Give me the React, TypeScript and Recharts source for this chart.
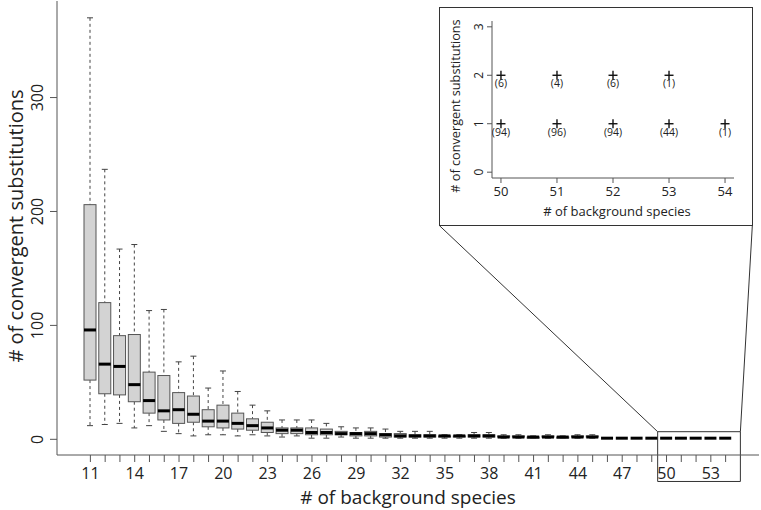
import React from "react";
import {
  ComposedChart, Bar, Scatter, XAxis, YAxis, ReferenceArea, ReferenceLine,
} from "recharts";

// number of background species (one box per value)
const categories = [
  11, 12, 13, 14, 15, 16, 17, 18, 19, 20, 21, 22, 23, 24, 25, 26, 27, 28, 29, 30, 31, 32,
  33, 34, 35, 36, 37, 38, 39, 40, 41, 42, 43, 44, 45, 46, 47, 48, 49, 50, 51, 52, 53, 54,
];
// box statistics
const whiskerLow = [
  12, 13, 14, 10, 12, 7, 5, 3, 4, 4, 3, 4, 3, 2, 3, 1, 1, 2, 1, 1, 1, 1,
  1, 1, 1, 1, 1, 1, 1, 1, 1, 1, 1, 1, 1, 1, 1, 1, 1, 1, 1, 1, 1, 1,
];
const lowerQuartile = [
  52, 40, 39, 33, 23, 17, 14, 15, 11, 10, 9, 8, 6, 5, 5, 4, 4, 4, 3, 3, 2, 2,
  2, 2, 2, 2, 2, 2, 2, 2, 1, 2, 1, 2, 2, 1, 1, 1, 1, 1, 1, 1, 1, 1,
];
const medians = [
  96, 66, 64, 48, 34, 25, 26, 22, 16, 16, 14, 12, 10, 8, 8, 6, 6, 5, 5, 5, 4, 3,
  3, 3, 3, 3, 3, 3, 2, 2, 2, 2, 2, 2, 2, 1, 1, 1, 1, 1, 1, 1, 1, 1,
];
const upperQuartile = [
  206, 120, 91, 92, 59, 56, 41, 38, 26, 30, 23, 18, 15, 10, 10, 10, 9, 7, 6, 7, 5, 5,
  4, 4, 3, 3, 4, 4, 3, 3, 2, 3, 2, 3, 3, 1, 1, 1, 1, 1, 1, 1, 1, 1,
];
const whiskerHigh = [
  370, 237, 167, 171, 113, 114, 68, 73, 45, 60, 42, 30, 25, 17, 17, 17, 14, 11, 10, 10, 9, 7,
  7, 7, 4, 4, 6, 6, 4, 4, 3, 4, 3, 4, 4, 1, 1, 1, 1, 1, 1, 1, 1, 1,
];
const yTicks = [0, 100, 200, 300];

// inset: counts of replicates at 1 and 2 convergent substitutions
const insetSpecies = [50, 51, 52, 53, 54];
const countsAtOne = [94, 96, 94, 44, 1];
const countsAtTwo = [6, 4, 6, 1, 0];
const insetYTicks = [0, 1, 2, 3];

const FONT = '"Open Sans", sans-serif';
const INK = "#222";
const FRAME = "#555";

const boxData = categories.map((c, i) => ({
  species: c,
  lo: whiskerLow[i],
  q1: lowerQuartile[i],
  med: medians[i],
  q3: upperQuartile[i],
  hi: whiskerHigh[i],
}));

const insetPoints = insetSpecies.flatMap((s, i) => [
  { species: s, subs: 1, n: countsAtOne[i] },
  { species: s, subs: 2, n: countsAtTwo[i] },
]).filter((p) => p.n > 0);

function BoxShape(props: any) {
  const { x, y, width, height, payload } = props;
  if (!payload) return null;
  const { lo, q1, med, q3, hi } = payload;
  const top = y;
  const bottom = y + height;
  const span = hi - lo;
  const py = (v: number) => (span === 0 ? top : top + ((hi - v) / span) * (bottom - top));
  const cx = x + width / 2;
  const cap = width / 4;
  return (
    <g>
      <line x1={cx} x2={cx} y1={py(hi)} y2={py(q3)} stroke="#444" strokeDasharray="3 3" />
      <line x1={cx} x2={cx} y1={py(q1)} y2={py(lo)} stroke="#444" strokeDasharray="3 3" />
      <line x1={cx - cap} x2={cx + cap} y1={py(hi)} y2={py(hi)} stroke="#444" />
      <line x1={cx - cap} x2={cx + cap} y1={py(lo)} y2={py(lo)} stroke="#444" />
      <rect x={x} y={py(q3)} width={width} height={py(q1) - py(q3)} fill="#d3d3d3" stroke="#555" />
      <line x1={x} x2={x + width} y1={py(med)} y2={py(med)} stroke="#000" strokeWidth={3} />
    </g>
  );
}

function XTick(props: any) {
  const { x, y, payload } = props;
  if ((payload.value - 11) % 3 !== 0) return null;
  return (
    <text x={x} y={y} dy={15} textAnchor="middle" fontFamily={FONT} fontSize={16} fill={INK}>
      {payload.value}
    </text>
  );
}

function YTick(props: any) {
  const { x, y, payload } = props;
  const tx = x - 11;
  return (
    <text x={tx} y={y} transform={`rotate(-90, ${tx}, ${y})`} textAnchor="middle"
      dominantBaseline="central" fontFamily={FONT} fontSize={16} fill={INK}>
      {payload.value}
    </text>
  );
}

function InsetXTick(props: any) {
  const { x, y, payload } = props;
  return (
    <text x={x} y={y} dy={10.5} textAnchor="middle" fontFamily={FONT} fontSize={13} fill={INK}>
      {payload.value}
    </text>
  );
}

function InsetYTick(props: any) {
  const { x, y, payload } = props;
  const tx = x - 6;
  return (
    <text x={tx} y={y} transform={`rotate(-90, ${tx}, ${y})`} textAnchor="middle"
      dominantBaseline="central" fontFamily={FONT} fontSize={12} fill={INK}>
      {payload.value}
    </text>
  );
}

function CrossShape(props: any) {
  const { cx, cy, payload } = props;
  const r = 4.5;
  return (
    <g>
      <line x1={cx - r} x2={cx + r} y1={cy} y2={cy} stroke="#111" strokeWidth={1.4} />
      <line x1={cx} x2={cx} y1={cy - r} y2={cy + r} stroke="#111" strokeWidth={1.4} />
      <text x={cx} y={cy + 12} textAnchor="middle" fontFamily={FONT} fontSize={10.5} fill={INK}>
        ({payload.n})
      </text>
    </g>
  );
}

function Inset() {
  return (
    <div style={{
      position: "absolute", left: 439, top: 7, width: 314, height: 219,
      boxSizing: "border-box", border: "1px solid #333", background: "#fff",
    }}>
      <ComposedChart width={312} height={217} data={insetPoints}
        margin={{ top: 13, right: 18, bottom: 0, left: 0 }}>
        <XAxis xAxisId="b" dataKey="species" type="number" domain={[49.84, 54.16]}
          ticks={insetSpecies} interval={0} height={47} tickSize={5} allowDataOverflow
          tick={<InsetXTick />} tickLine={{ stroke: FRAME }} axisLine={{ stroke: FRAME }} />
        <XAxis xAxisId="t" orientation="top" type="number" domain={[49.84, 54.16]}
          height={0} tick={false} tickLine={false} axisLine={{ stroke: FRAME }} />
        <YAxis yAxisId="l" dataKey="subs" type="number" domain={[-0.12, 3.12]}
          ticks={insetYTicks} interval={0} width={52} tickSize={5} allowDataOverflow
          tick={<InsetYTick />} tickLine={{ stroke: FRAME }} axisLine={{ stroke: FRAME }} />
        <YAxis yAxisId="r" orientation="right" type="number" domain={[-0.12, 3.12]}
          width={0} tick={false} tickLine={false} axisLine={{ stroke: FRAME }} />
        <Scatter xAxisId="b" yAxisId="l" dataKey="subs" shape={<CrossShape />}
          isAnimationActive={false} />
      </ComposedChart>
      <div style={{
        position: "absolute", left: 177, top: 203, transform: "translate(-50%, -50%)",
        whiteSpace: "nowrap", fontFamily: FONT, fontSize: 13, color: INK,
      }}>
        # of background species
      </div>
      <div style={{
        position: "absolute", left: 15, top: 98, transform: "translate(-50%, -50%) rotate(-90deg)",
        whiteSpace: "nowrap", fontFamily: FONT, fontSize: 12.7, color: INK,
      }}>
        # of convergent substitutions
      </div>
    </div>
  );
}

export default function App() {
  return (
    <div style={{
      position: "fixed", left: 0, top: 0, width: 761, height: 510,
      background: "#fff", overflow: "hidden",
    }}>
      <ComposedChart width={761} height={510} data={boxData}
        margin={{ top: 1, right: 2, bottom: 0, left: 0 }}>
        <XAxis xAxisId="b" dataKey="species" type="number" domain={[8.74, 56.26]}
          ticks={categories} interval={0} height={55} tickSize={7} allowDataOverflow
          tick={<XTick />} tickLine={{ stroke: FRAME }} axisLine={{ stroke: FRAME }} />
        <XAxis xAxisId="t" orientation="top" type="number" domain={[8.74, 56.26]}
          height={0} tick={false} tickLine={false} axisLine={{ stroke: FRAME }} />
        <YAxis yAxisId="l" type="number" domain={[-13.76, 384.76]} ticks={yTicks}
          interval={0} width={57} tickSize={7} allowDataOverflow
          tick={<YTick />} tickLine={{ stroke: FRAME }} axisLine={{ stroke: FRAME }} />
        <YAxis yAxisId="r" orientation="right" type="number" domain={[-13.76, 384.76]}
          width={0} tick={false} tickLine={false} axisLine={{ stroke: FRAME }} />
        <Bar xAxisId="b" yAxisId="l" dataKey={(d: any) => [d.lo, d.hi]} barSize={12}
          shape={<BoxShape />} isAnimationActive={false} />
        <ReferenceArea xAxisId="b" yAxisId="l" x1={49.4} x2={55} y1={-37} y2={6.7}
          ifOverflow="visible" fill="none" stroke="#333" strokeWidth={1} />
        <ReferenceLine xAxisId="b" yAxisId="l" ifOverflow="visible" stroke="#333"
          segment={[{ x: 34.62, y: 187.7 }, { x: 49.4, y: 6.7 }]} />
        <ReferenceLine xAxisId="b" yAxisId="l" ifOverflow="visible" stroke="#333"
          segment={[{ x: 55.81, y: 188 }, { x: 55, y: 6.7 }]} />
      </ComposedChart>
      <div style={{
        position: "absolute", left: 408, top: 497, transform: "translate(-50%, -50%)",
        whiteSpace: "nowrap", fontFamily: FONT, fontSize: 19, color: INK,
      }}>
        # of background species
      </div>
      <div style={{
        position: "absolute", left: 15, top: 226, transform: "translate(-50%, -50%) rotate(-90deg)",
        whiteSpace: "nowrap", fontFamily: FONT, fontSize: 20, color: INK,
      }}>
        # of convergent substitutions
      </div>
      <Inset />
    </div>
  );
}
